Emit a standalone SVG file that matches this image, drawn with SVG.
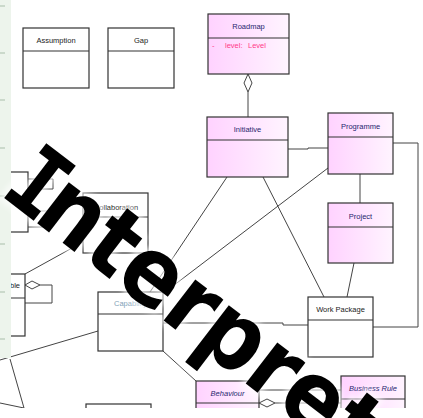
<svg xmlns="http://www.w3.org/2000/svg" width="423" height="418" viewBox="0 0 423 418">
  <style>
    .box { fill: #ffffff; stroke: #333333; stroke-width: 1.2; }
    .pink { fill: url(#pinkGrad); stroke: #333333; stroke-width: 1.2; }
    .div { stroke: #333333; stroke-width: 1.2; fill: none; }
    .lbl { font-family: "Liberation Sans", Arial, sans-serif; font-size: 7.5px; fill: #222222; text-anchor: middle; }
    .plbl { font-family: "Liberation Sans", Arial, sans-serif; font-size: 7.5px; fill: #26266e; text-anchor: middle; }
    .ital { font-style: italic; }
    .attr { font-family: "Liberation Sans", Arial, sans-serif; font-size: 7.5px; fill: #ff3a8a; }
    .conn { stroke: #444444; stroke-width: 1; fill: none; }
    .agg { stroke: #444444; stroke-width: 1; fill: #ffffff; }
    .mark { font-family: "DejaVu Sans", sans-serif; font-weight: bold; font-size: 95px; }
    .serifI { font-family: "DejaVu Sans Mono", monospace; }
  </style>
  <defs>
    <linearGradient id="pinkGrad" x1="0" y1="0" x2="1" y2="0">
      <stop offset="0" stop-color="#ffd2ff"/>
      <stop offset="1" stop-color="#fff4ff"/>
    </linearGradient>
    <clipPath id="canvas">
      <rect x="0" y="0" width="423" height="408"/>
    </clipPath>
    <filter id="haze" x="-20%" y="-20%" width="140%" height="140%">
      <feGaussianBlur stdDeviation="2.5"/>
    </filter>
  </defs>

  <rect x="0" y="0" width="423" height="418" fill="#ffffff"/>

  <g clip-path="url(#canvas)">
    <!-- connectors -->
    <g id="connectors">
      <line class="conn" x1="248" y1="92" x2="248" y2="117"/>
      <polygon class="agg" points="248,74 252,83 248,92 244,83"/>
      <polyline class="conn" points="288,149 308,149 308,148 328,148"/>
      <polyline class="conn" points="393,143 418,143 418,327 373,327"/>
      <line class="conn" x1="360" y1="174" x2="360" y2="203"/>
      <line class="conn" x1="354" y1="263" x2="347" y2="297"/>
      <line class="conn" x1="263" y1="177" x2="324" y2="297"/>
      <line class="conn" x1="227" y1="177" x2="150" y2="292"/>
      <line class="conn" x1="328" y1="168" x2="165" y2="292"/>
      <polyline class="conn" points="163,323 283,323 283,325 308,325"/>
      <line class="conn" x1="163" y1="351" x2="196" y2="381"/>
      <line class="conn" x1="0" y1="360" x2="98" y2="331"/>
      <line class="conn" x1="10" y1="359" x2="24" y2="408"/>
      <line class="conn" x1="0" y1="403" x2="24" y2="408"/>
      <line class="conn" x1="25" y1="274" x2="83" y2="242"/>
      <line class="conn" x1="259" y1="390" x2="341" y2="390"/>
      <line class="conn" x1="275" y1="403" x2="341" y2="403"/>
      <polygon class="agg" points="259,403 267,399 275,403 267,407"/>
      <polyline class="conn" points="40,285 52,285 52,303 25,303"/>
      <polygon class="agg" points="25,285 32,281 40,285 32,289"/>
      <polyline class="conn" points="28,179 53,179 53,189 28,189"/>
      <polyline class="conn" points="40,211 52,211 52,227 28,227"/>
      <polygon class="agg" points="28,211 34,207.5 40,211 34,214.5"/>
    </g>

    <g id="assumption">
      <rect class="box" x="23" y="28" width="66" height="60"/>
      <line class="div" x1="23" y1="51" x2="89" y2="51"/>
      <text class="lbl" x="56" y="42.5">Assumption</text>
    </g>
    <g id="gap">
      <rect class="box" x="108" y="28" width="66" height="60"/>
      <line class="div" x1="108" y1="51" x2="174" y2="51"/>
      <text class="lbl" x="141" y="42.5">Gap</text>
    </g>
    <g id="roadmap">
      <rect class="pink" x="208" y="14" width="81" height="60"/>
      <line class="div" x1="208" y1="38" x2="289" y2="38"/>
      <text class="plbl" x="248.5" y="29">Roadmap</text>
      <text class="attr" y="48"><tspan x="212">-</tspan><tspan x="225">level:</tspan><tspan x="248">Level</tspan></text>
    </g>
    <g id="initiative">
      <rect class="pink" x="207" y="117" width="81" height="60"/>
      <line class="div" x1="207" y1="140" x2="288" y2="140"/>
      <text class="plbl" x="247.5" y="132">Initiative</text>
    </g>
    <g id="programme">
      <rect class="pink" x="328" y="113" width="65" height="61"/>
      <line class="div" x1="328" y1="137" x2="393" y2="137"/>
      <text class="plbl" x="360.5" y="129">Programme</text>
    </g>
    <g id="project">
      <rect class="pink" x="328" y="203" width="65" height="60"/>
      <line class="div" x1="328" y1="227" x2="393" y2="227"/>
      <text class="plbl" x="360.5" y="219">Project</text>
    </g>
    <g id="work-package">
      <rect class="box" x="308" y="297" width="65" height="60"/>
      <line class="div" x1="308" y1="320" x2="373" y2="320"/>
      <text class="lbl" x="340.5" y="312">Work Package</text>
    </g>
    <g id="capability">
      <rect class="box" x="98" y="292" width="65" height="59"/>
      <line class="div" x1="98" y1="314" x2="163" y2="314"/>
      <text class="lbl" x="130.5" y="306" style="fill:#7f9fb8">Capability</text>
    </g>
    <g id="collaboration">
      <rect class="box" x="83" y="193" width="65" height="60"/>
      <line class="div" x1="83" y1="217" x2="148" y2="217"/>
      <text class="lbl" x="116" y="210">Collaboration</text>
    </g>
    <g id="left-class-a">
      <rect class="box" x="-40" y="172" width="68" height="60"/>
    </g>
    <g id="left-class-b">
      <rect class="box" x="-40" y="274" width="65" height="62"/>
      <line class="div" x1="-40" y1="298" x2="25" y2="298"/>
      <text class="lbl" x="15" y="288">ble</text>
    </g>
    <g id="behaviour">
      <rect class="pink" x="196" y="381" width="63" height="40"/>
      <line class="div" x1="196" y1="403" x2="259" y2="403"/>
      <text class="plbl ital" x="227.5" y="396">Behaviour</text>
    </g>
    <g id="business-rule">
      <rect class="pink" x="341" y="376" width="64" height="45"/>
      <line class="div" x1="341" y1="399" x2="405" y2="399"/>
      <text class="plbl ital" x="373" y="391">Business Rule</text>
    </g>
    <g id="bottom-class">
      <rect class="box" x="86" y="404" width="65" height="20"/>
    </g>
  </g>

  <!-- side panel strip -->
  <g id="side-panel">
    <rect x="0" y="0" width="11" height="358" fill="#edf4ec"/>
    <g fill="#cbd9cb">
      <rect x="0" y="5" width="5" height="2"/>
      <rect x="0" y="52" width="5" height="2"/>
      <rect x="0" y="99" width="5" height="2"/>
      <rect x="0" y="147" width="5" height="2"/>
      <rect x="0" y="195" width="5" height="2"/>
      <rect x="0" y="243" width="5" height="2"/>
      <rect x="0" y="291" width="5" height="2"/>
      <rect x="0" y="338" width="5" height="2"/>
    </g>
  </g>

  <!-- watermark: soft white halo, then the black lettering -->
  <g id="watermark" transform="translate(6.3,199.8) rotate(37.5) scale(0.9,1)">
    <text class="mark" fill="#ffffff" stroke="#ffffff" stroke-width="10" stroke-opacity="0.5" fill-opacity="0.5" filter="url(#haze)"><tspan class="serifI" dx="-11">I</tspan><tspan dx="-11">nterpret</tspan></text>
    <text class="mark" fill="#000000"><tspan class="serifI" dx="-11">I</tspan><tspan dx="-11">nterpret</tspan></text>
  </g>
</svg>
